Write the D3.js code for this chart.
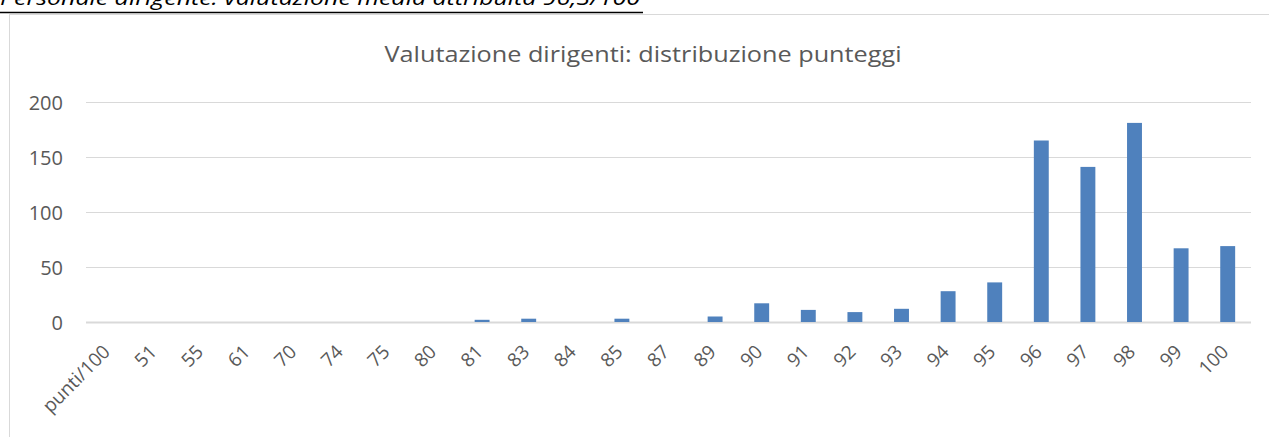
<!DOCTYPE html>
<html>
<head>
<meta charset="utf-8">
<script src="https://cdn.jsdelivr.net/npm/d3@7"></script>
<style>
  body { margin: 0; background: #fff; }
  svg { display: block; }
</style>
</head>
<body>
<script>
// punteggi (categorie) e numero di dirigenti per punteggio
const categories = ["punti/100", "51", "55", "61", "70", "74", "75", "80", "81", "83", "84", "85", "87", "89", "90", "91", "92", "93", "94", "95", "96", "97", "98", "99", "100"];
const counts = [0, 0, 0, 0, 0, 0, 0, 0, 2, 3, 0, 3, 0, 5, 17, 11, 9, 12, 28, 36, 165, 141, 181, 67, 69];
const yTicks = [0, 50, 100, 150, 200];

const chartTitle = "Valutazione dirigenti: distribuzione punteggi";
const pageHeading = "Personale dirigente: valutazione media attribuita 96,3/100";

const width = 1269;
const height = 437;
const plot = {left: 86, right: 1251, top: 102, bottom: 322};
const font = "'Open Sans', sans-serif";
const textColor = "#595959";

const svg = d3.select("body").append("svg").attr("width", width).attr("height", height);

// heading above the chart, mostly cut off at the top
svg.append("text")
  .attr("x", 0).attr("y", 5)
  .attr("font-family", font).attr("font-style", "italic")
  .attr("font-size", 20).attr("fill", "#000")
  .attr("textLength", 640).attr("lengthAdjust", "spacingAndGlyphs")
  .text(pageHeading);
svg.append("line")
  .attr("x1", 0).attr("x2", 643).attr("y1", 12.5).attr("y2", 12.5)
  .attr("stroke", "#000").attr("stroke-width", 1.5);

// chart frame
svg.append("rect")
  .attr("x", 9.5).attr("y", 14.5)
  .attr("width", 1280).attr("height", 440)
  .attr("fill", "none").attr("stroke", "#d9d9d9");

// title
svg.append("text")
  .attr("x", 643).attr("y", 62)
  .attr("text-anchor", "middle")
  .attr("font-family", font).attr("font-size", 22.5)
  .attr("fill", textColor)
  .attr("textLength", 517).attr("lengthAdjust", "spacingAndGlyphs")
  .text(chartTitle);

const xScale = d3.scaleBand().domain(categories).range([plot.left, plot.right]).paddingInner(0.68).paddingOuter(0.34);
const yScale = d3.scaleLinear().domain([0, 200]).range([plot.bottom, plot.top]);

// gridlines
svg.append("g")
  .selectAll("line")
  .data(yTicks)
  .enter()
  .append("line")
  .attr("x1", plot.left).attr("x2", plot.right)
  .attr("y1", (d) => Math.round(yScale(d)) + 0.5)
  .attr("y2", (d) => Math.round(yScale(d)) + 0.5)
  .attr("stroke", "#d9d9d9")
  .attr("stroke-width", (d) => d === 0 ? 2 : 1.2);

// y axis labels
const yAxis = d3.axisLeft(yScale).tickValues(yTicks).tickSize(0).tickPadding(0);
const yg = svg.append("g")
  .attr("transform", "translate(63,0)")
  .call(yAxis);
yg.select(".domain").remove();
yg.selectAll("text")
  .attr("font-family", font).attr("font-size", 20)
  .attr("fill", textColor).attr("dy", "0.35em");

// bars
svg.append("g")
  .selectAll("rect")
  .data(categories)
  .enter()
  .append("rect")
  .attr("x", (d) => xScale(d))
  .attr("y", (d, i) => yScale(counts[i]))
  .attr("width", xScale.bandwidth())
  .attr("height", (d, i) => plot.bottom - yScale(counts[i]))
  .attr("fill", "#4f81bd");

// x axis labels, rotated
const xAxis = d3.axisBottom(xScale).tickSize(0).tickPadding(0);
const xg = svg.append("g")
  .attr("transform", "translate(0," + plot.bottom + ")")
  .call(xAxis);
xg.select(".domain").remove();
xg.selectAll("text")
  .attr("font-family", font).attr("font-size", 19)
  .attr("fill", textColor)
  .attr("text-anchor", "end")
  .attr("dy", null).attr("y", 0)
  .attr("transform", "translate(2,31) rotate(-45)");
</script>
</body>
</html>
